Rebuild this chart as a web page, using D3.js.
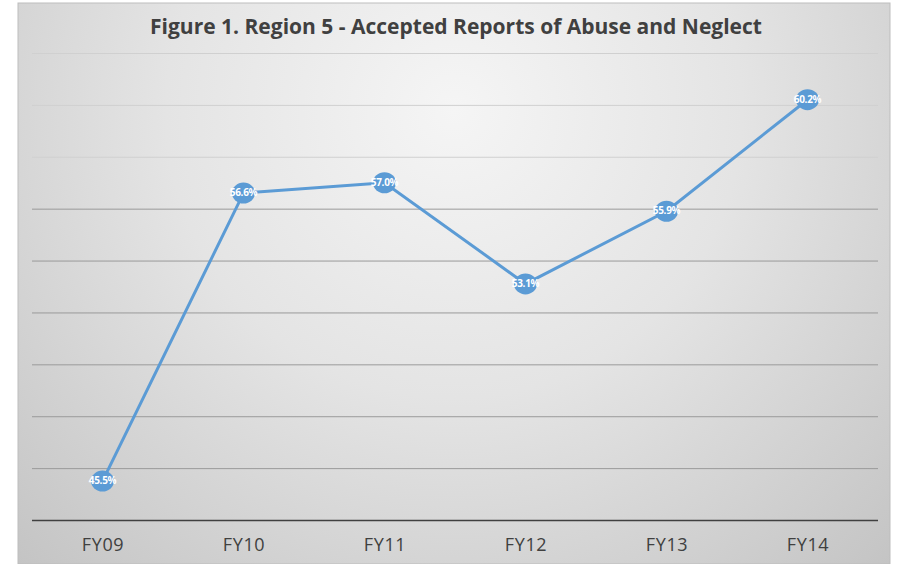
<!DOCTYPE html>
<html lang="en">
<head>
    <meta charset="UTF-8">
    <title>Region 5 - Accepted Reports of Abuse and Neglect</title>
    <script src="https://d3js.org/d3.v7.min.js"></script>
    <style>
        body { margin: 0; background: #fff; }
        svg { display: block; }
        text { font-family: 'Open Sans', sans-serif; }
    </style>
</head>
<body>
<div id="chart"></div>
<script>
    // data
    const years = ["FY09", "FY10", "FY11", "FY12", "FY13", "FY14"];
    const values = [45.5, 56.6, 57.0, 53.1, 55.9, 60.2];
    const yTicks = [44, 46, 48, 50, 52, 54, 56, 58, 60, 62];

    const width = 898, height = 564;
    const box = { left: 18, top: 3, right: 890, bottom: 564 };
    const plot = { left: 32, right: 878, top: 53, bottom: 520 };

    const svg = d3.select("#chart").append("svg")
        .attr("width", width)
        .attr("height", height);

    // background gradient, light near the top centre
    const defs = svg.append("defs");
    const grad = defs.append("radialGradient")
        .attr("id", "bg")
        .attr("gradientUnits", "userSpaceOnUse")
        .attr("cx", 454).attr("cy", 110).attr("r", 640);
    grad.append("stop").attr("offset", "0%").attr("stop-color", "#f5f5f5");
    grad.append("stop").attr("offset", "45%").attr("stop-color", "#e4e4e4");
    grad.append("stop").attr("offset", "100%").attr("stop-color", "#c3c3c3");

    svg.append("rect")
        .attr("x", box.left).attr("y", box.top)
        .attr("width", box.right - box.left).attr("height", box.bottom - box.top)
        .attr("fill", "url(#bg)")
        .attr("stroke", "#bdbdbd").attr("stroke-width", 1);

    const x = d3.scalePoint()
        .domain(years)
        .range([plot.left, plot.right])
        .padding(0.5);

    const y = d3.scaleLinear()
        .domain([44, 62])
        .range([plot.bottom, plot.top]);

    // gridlines
    svg.append("g")
        .selectAll("line")
        .data(yTicks.slice(1))
        .join("line")
        .attr("x1", plot.left).attr("x2", plot.right)
        .attr("y1", d => y(d) + 0.5).attr("y2", d => y(d) + 0.5)
        .attr("stroke", d => d >= 58 ? "#d0d0d0" : "#9a9a9a")
        .attr("stroke-width", 1);

    // x axis
    const xAxis = svg.append("g")
        .attr("transform", `translate(0,${plot.bottom})`)
        .call(d3.axisBottom(x).tickSize(0).tickPadding(18));
    xAxis.select(".domain")
        .attr("d", `M${plot.left},0.5H${plot.right}`)
        .attr("stroke", "#404040").attr("stroke-width", 1.5);
    xAxis.selectAll("text")
        .attr("fill", "#404040")
        .style("font-size", "18px")
        .style("letter-spacing", "0.6px");

    // title
    svg.append("text")
        .attr("x", 456).attr("y", 34)
        .attr("text-anchor", "middle")
        .attr("fill", "#404040")
        .style("font-size", "21px")
        .style("font-weight", "bold")
        .text("Figure 1. Region 5 - Accepted Reports of Abuse and Neglect");

    // line
    const line = d3.line()
        .x((d, i) => x(years[i]))
        .y(d => y(d));

    svg.append("path")
        .datum(values)
        .attr("d", line)
        .attr("fill", "none")
        .attr("stroke", "#5b9bd5")
        .attr("stroke-width", 3);

    // markers and labels
    const pts = svg.append("g")
        .selectAll("g")
        .data(values)
        .join("g")
        .attr("transform", (d, i) => `translate(${x(years[i])},${y(d)})`);

    pts.append("ellipse")
        .attr("rx", 11.5).attr("ry", 10.5)
        .attr("fill", "#5b9bd5");

    pts.append("text")
        .attr("y", 3)
        .attr("text-anchor", "middle")
        .attr("fill", "#fff")
        .style("font-size", "10px")
        .style("font-weight", "bold")
        .style("letter-spacing", "-0.3px")
        .text(d => d.toFixed(1) + "%");
</script>
</body>
</html>
